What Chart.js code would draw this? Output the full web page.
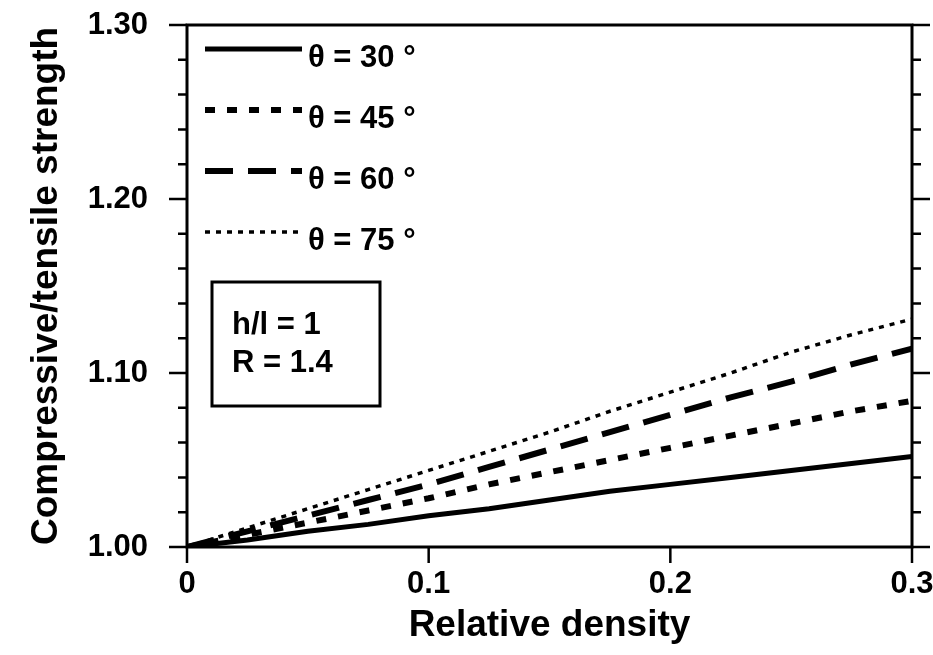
<!DOCTYPE html>
<html>
<head>
<meta charset="utf-8">
<script src="https://cdn.jsdelivr.net/npm/chart.js@4"></script>
<style>
  html, body { margin: 0; padding: 0; background: #fff; }
  #wrap { width: 933px; height: 655px; }
</style>
</head>
<body>
<div id="wrap"><canvas id="grafico"></canvas></div>
<script>
// relative density (x)
var densidad = [0, 0.025, 0.05, 0.075, 0.1, 0.125, 0.15, 0.175, 0.2, 0.225, 0.25, 0.275, 0.3];

// compressive/tensile strength ratio, one list per angle
var theta30 = [1.000, 1.004, 1.009, 1.013, 1.018, 1.022, 1.027, 1.032, 1.036, 1.040, 1.044, 1.048, 1.052];
var theta45 = [1.000, 1.007, 1.014, 1.021, 1.028, 1.036, 1.043, 1.050, 1.057, 1.064, 1.071, 1.078, 1.084];
var theta60 = [1.000, 1.009, 1.018, 1.027, 1.036, 1.046, 1.056, 1.066, 1.076, 1.086, 1.095, 1.105, 1.114];
var theta75 = [1.000, 1.011, 1.022, 1.033, 1.044, 1.055, 1.066, 1.078, 1.089, 1.100, 1.112, 1.122, 1.131];

var etiquetas = ["\u03b8 = 30 \u00b0", "\u03b8 = 45 \u00b0", "\u03b8 = 60 \u00b0", "\u03b8 = 75 \u00b0"];
var xTicks = [0, 0.1, 0.2, 0.3];
var yTicks = [1.00, 1.10, 1.20, 1.30];
var cajaTexto = ["h/l = 1", "R = 1.4"];

function puntos(serie) {
    return densidad.map(function (x, i) { return { x: x, y: serie[i] }; });
}

var fuente = "'Liberation Sans', Arial, Helvetica, sans-serif";

// frame, tick marks, legend and the parameter box
var marco = {
    id: 'marco',
    afterDraw: function (chart) {
        var ctx = chart.ctx;
        var a = chart.chartArea;
        var sx = chart.scales.x, sy = chart.scales.y;
        ctx.save();
        ctx.strokeStyle = '#000';
        ctx.lineWidth = 3;
        ctx.strokeRect(a.left, a.top, a.right - a.left, a.bottom - a.top);

        // y ticks, both sides, major every 0.1 and minor every 0.02
        ctx.lineWidth = 2.5;
        for (var k = 0; k <= 15; k++) {
            var v = 1 + k * 0.02;
            var py = sy.getPixelForValue(v);
            var len = (k % 5 === 0) ? 18 : 9;
            ctx.beginPath();
            ctx.moveTo(a.left - len, py); ctx.lineTo(a.left, py);
            ctx.moveTo(a.right, py); ctx.lineTo(a.right + len, py);
            ctx.stroke();
        }
        // x ticks
        xTicks.forEach(function (v) {
            var px = sx.getPixelForValue(v);
            ctx.beginPath();
            ctx.moveTo(px, a.bottom); ctx.lineTo(px, a.bottom + 16);
            ctx.stroke();
        });

        // legend
        ctx.font = 'bold 31px ' + fuente;
        ctx.textBaseline = 'middle';
        ctx.fillStyle = '#000';
        chart.data.datasets.forEach(function (ds, i) {
            var ly = a.top + 24 + i * 61;
            ctx.beginPath();
            ctx.lineWidth = ds.borderWidth;
            ctx.setLineDash(ds.borderDash || []);
            ctx.moveTo(a.left + 18, ly);
            ctx.lineTo(a.left + 115, ly);
            ctx.stroke();
            ctx.setLineDash([]);
            ctx.fillText(ds.label, a.left + 121, ly + 9);
        });

        // parameter box
        ctx.lineWidth = 3;
        ctx.strokeRect(a.left + 25, a.top + 257, 168, 124);
        ctx.fillText(cajaTexto[0], a.left + 45, a.top + 300);
        ctx.fillText(cajaTexto[1], a.left + 45, a.top + 338);
        ctx.restore();
    }
};

var grafico = new Chart(document.getElementById('grafico'), {
    type: 'line',
    data: {
        datasets: [
            {
                label: etiquetas[0],
                data: puntos(theta30),
                borderColor: '#000',
                borderWidth: 5,
                borderDash: []
            },
            {
                label: etiquetas[1],
                data: puntos(theta45),
                borderColor: '#000',
                borderWidth: 6,
                borderDash: [10, 12]
            },
            {
                label: etiquetas[2],
                data: puntos(theta60),
                borderColor: '#000',
                borderWidth: 6,
                borderDash: [28, 15]
            },
            {
                label: etiquetas[3],
                data: puntos(theta75),
                borderColor: '#000',
                borderWidth: 3.5,
                borderDash: [5, 6]
            }
        ]
    },
    options: {
        responsive: true,
        maintainAspectRatio: false,
        animation: false,
        layout: { padding: { top: 25, right: 21, left: 0, bottom: 0 } },
        elements: {
            point: { radius: 0 },
            line: { tension: 0, fill: false, borderCapStyle: 'butt' }
        },
        plugins: {
            legend: { display: false },
            tooltip: { enabled: false }
        },
        scales: {
            x: {
                type: 'linear',
                min: 0,
                max: 0.3,
                grid: { display: false, drawTicks: false },
                border: { display: false },
                afterBuildTicks: function (scale) {
                    scale.ticks = xTicks.map(function (v) { return { value: v }; });
                },
                afterFit: function (scale) {
                    scale.height = 108;
                    scale.paddingLeft = 0;
                    scale.paddingRight = 0;
                },
                ticks: {
                    padding: 19,
                    color: '#000',
                    font: { family: fuente, size: 31, weight: 'bold' },
                    maxRotation: 0,
                    callback: function (v) { return v === 0 ? '0' : String(+v.toFixed(1)); }
                },
                title: {
                    display: true,
                    text: 'Relative density',
                    color: '#000',
                    font: { family: fuente, size: 37, weight: 'bold' },
                    padding: { top: 0, bottom: 7 }
                }
            },
            y: {
                type: 'linear',
                min: 1.0,
                max: 1.3,
                grid: { display: false, drawTicks: false },
                border: { display: false },
                afterBuildTicks: function (scale) {
                    scale.ticks = yTicks.map(function (v) { return { value: v }; });
                },
                afterFit: function (scale) {
                    scale.width = 187;
                    scale.paddingTop = 0;
                    scale.paddingBottom = 0;
                },
                ticks: {
                    padding: 39,
                    color: '#000',
                    font: { family: fuente, size: 31, weight: 'bold' },
                    callback: function (v) { return v.toFixed(2); }
                },
                title: {
                    display: true,
                    text: 'Compressive/tensile strength',
                    color: '#000',
                    font: { family: fuente, size: 37, weight: 'bold' },
                    padding: { top: 25, bottom: 0 }
                }
            }
        }
    },
    plugins: [marco]
});
</script>
</body>
</html>
